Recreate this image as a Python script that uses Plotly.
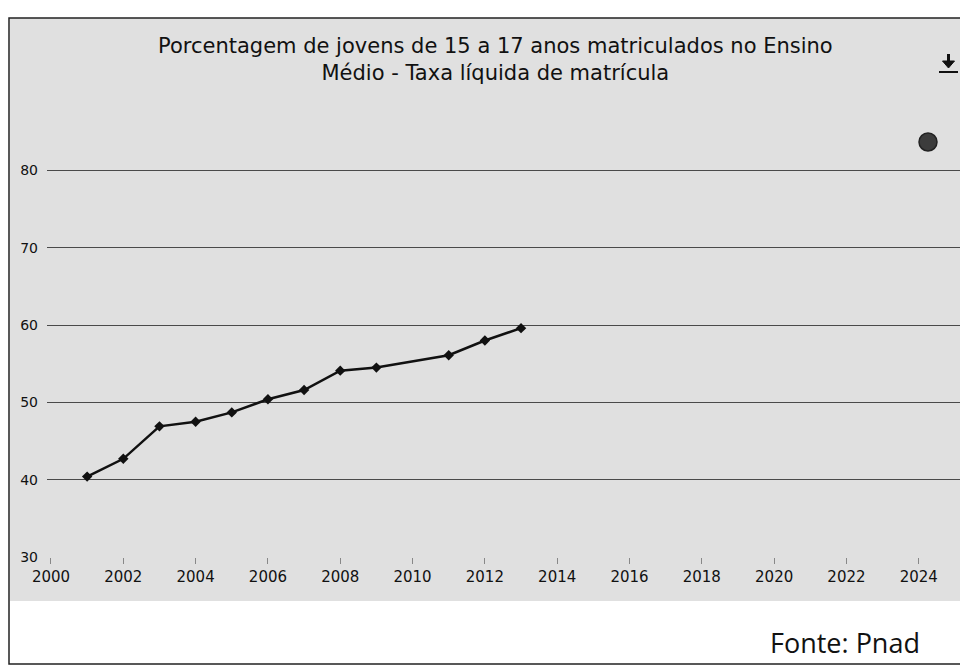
import plotly.graph_objects as go

# ---- data ----
anos = [2001, 2002, 2003, 2004, 2005, 2006, 2007, 2008, 2009, 2011, 2012, 2013]
taxa = [40.4, 42.7, 46.9, 47.5, 48.7, 50.4, 51.6, 54.1, 54.5, 56.1, 58.0, 59.6]
y_ticks = [30, 40, 50, 60, 70, 80]
x_ticks = list(range(2000, 2026, 2))
titulo = "Porcentagem de jovens de 15 a 17 anos matriculados no Ensino<br>Médio - Taxa líquida de matrícula"
fonte = "Fonte: Pnad"

W, H = 960, 668
L, R, T, B = 47, 0, 131, 111
PW, PH = W - L - R, H - T - B


def px(x):
    return (x - L) / PW


def py(y):
    return (H - B - y) / PH


fig = go.Figure()
fig.add_trace(go.Scatter(
    x=anos, y=taxa, mode="lines+markers",
    line=dict(color="#111111", width=2.5),
    marker=dict(symbol="diamond", size=8, color="#111111"),
    showlegend=False, hoverinfo="x+y",
))

shapes = [
    # grey chart background
    dict(type="rect", xref="paper", yref="paper", x0=px(10), x1=px(962), y0=py(601), y1=py(18),
         fillcolor="#e0e0e0", line=dict(width=0), layer="below"),
    # outer border
    dict(type="rect", xref="paper", yref="paper", x0=px(9), x1=px(975), y0=py(664), y1=py(18),
         fillcolor="rgba(0,0,0,0)", line=dict(color="#222222", width=1.5)),
    # legend-like dark dot
    dict(type="circle", xref="paper", yref="paper", x0=px(919), x1=px(937), y0=py(151), y1=py(133),
         fillcolor="#3c3c3c", line=dict(color="#222222", width=1.5)),
    # download icon: shaft, head, underline
    dict(type="line", xref="paper", yref="paper", x0=px(948.5), x1=px(948.5), y0=py(54), y1=py(63),
         line=dict(color="#111111", width=3)),
    dict(type="path", xref="paper", yref="paper",
         path=f"M {px(942.5)},{py(61)} L {px(954.5)},{py(61)} L {px(948.5)},{py(68)} Z",
         fillcolor="#111111", line=dict(color="#111111", width=1)),
    dict(type="line", xref="paper", yref="paper", x0=px(939), x1=px(958), y0=py(72), y1=py(72),
         line=dict(color="#111111", width=2)),
]

fig.update_layout(
    width=W, height=H,
    margin=dict(l=L, r=R, t=T, b=B, pad=0),
    paper_bgcolor="white",
    plot_bgcolor="rgba(0,0,0,0)",
    xaxis=dict(range=[1999.89, 2025.14], tickvals=x_ticks, showgrid=False, zeroline=False,
               ticks="outside", ticklen=6, tickcolor="#888888", showline=False,
               tickfont=dict(family="DejaVu Sans", size=15, color="#111111")),
    yaxis=dict(range=[30, 85.1], tickvals=y_ticks, showgrid=True, gridcolor="#4a4a4a", gridwidth=1.4,
               zeroline=False, showline=False, ticks="", ticklabelstandoff=8,
               tickfont=dict(family="DejaVu Sans", size=14, color="#111111")),
    shapes=shapes,
    annotations=[
        dict(text=titulo, xref="paper", yref="paper", x=px(495), y=py(59),
             xanchor="center", yanchor="middle", showarrow=False,
             font=dict(family="DejaVu Sans", size=21, color="#111111")),
        dict(text=fonte, xref="paper", yref="paper", x=px(922), y=py(642),
             xanchor="right", yanchor="middle", showarrow=False,
             font=dict(family="Open Sans", size=27, color="#111111")),
    ],
)

fig.write_html("out.html", config={"displayModeBar": False},
               post_script="document.body.style.margin='0';document.body.style.overflow='hidden';")
